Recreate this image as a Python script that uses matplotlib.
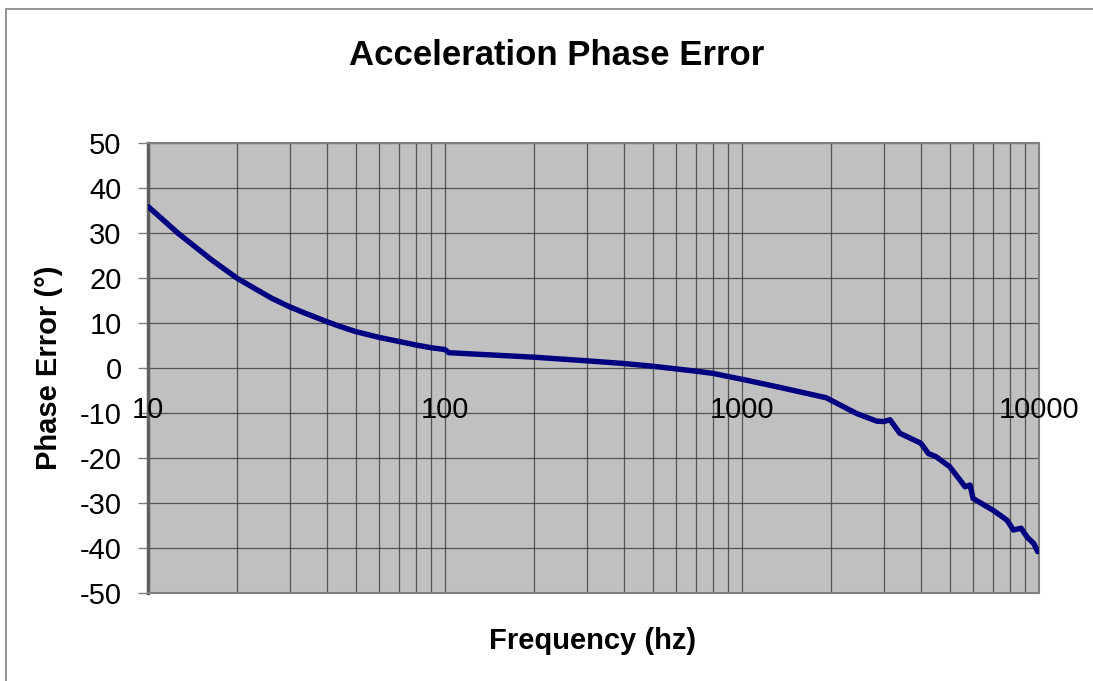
import numpy as np
import matplotlib
matplotlib.use('Agg')
import matplotlib.pyplot as plt
from matplotlib.patches import Rectangle

plt.rcParams['font.family'] = ['Liberation Sans', 'DejaVu Sans']
plt.rcParams['axes.unicode_minus'] = False

# values
freq = [10, 12.65, 16.4, 20, 26.1, 30, 32.9, 40, 44.3, 50, 60, 70, 80, 90, 100, 103,
        200, 300, 400, 500, 600, 700, 800, 900, 1000, 1340, 1920, 1985, 2430, 2840,
        3000, 3150, 3400, 4000, 4240, 4500, 5000, 5420, 5640, 5860, 6000, 7000, 7800,
        8200, 8700, 9100, 9600, 9900]
phase = [35.9, 29.9, 24.0, 19.9, 15.5, 13.6, 12.5, 10.3, 9.25, 8.1, 6.8, 5.9, 5.1, 4.5,
         4.1, 3.4, 2.4, 1.6, 1.0, 0.4, -0.2, -0.7, -1.2, -1.9, -2.5, -4.3, -6.6, -7.1,
         -10.1, -11.8, -11.9, -11.5, -14.5, -16.7, -19.0, -19.7, -21.9, -24.9, -26.4,
         -26.0, -29.0, -31.6, -33.8, -36.0, -35.6, -37.5, -39.0, -40.8]

x_labels = [10, 100, 1000, 10000]
y_ticks = list(range(-50, 51, 10))

fig = plt.figure(figsize=(10.93, 6.81), dpi=100)
ax = fig.add_axes([0.1354, 0.1292, 0.8152, 0.6608])

ax.set_facecolor('#c0c0c0')
ax.set_xscale('log')
ax.set_xlim(10, 10000)
ax.set_ylim(-50, 50)

ax.plot(freq, phase, color='#000080', lw=3.9, solid_joinstyle='round',
        solid_capstyle='round', zorder=3)

# grid
ax.set_yticks(y_ticks)
ax.set_xticks(x_labels)
ax.set_xticklabels([])
ax.tick_params(axis='x', which='both', length=0)
ax.tick_params(axis='y', length=7, width=1, color='#808080', labelsize=21, pad=12)
ax.grid(True, which='both', axis='x', color='#3a3a3a', lw=0.9, alpha=0.8)
ax.grid(True, which='major', axis='y', color='#3a3a3a', lw=0.9, alpha=0.8)
ax.set_axisbelow(True)

for s in ['top', 'right', 'bottom']:
    ax.spines[s].set_color('#808080')
    ax.spines[s].set_linewidth(1.5)
ax.spines['left'].set_color('#606060')
ax.spines['left'].set_linewidth(2.5)

# x tick labels sit just under the zero line
for v in x_labels:
    ax.text(v, -9.3, str(v), ha='center', va='center', fontsize=21, zorder=4)

ax.set_ylabel('Phase Error (°)', fontsize=21, fontweight='bold', labelpad=12)
fig.text(0.5426, 0.059, 'Frequency (hz)', ha='center', va='center', fontsize=21, fontweight='bold')
fig.text(0.509, 0.918, 'Acceleration Phase Error', ha='center', va='center', fontsize=25, fontweight='bold')

# outer chart frame
fig.patches.append(Rectangle((6 / 1093, -0.1), 1.2, 1 - 9 / 681 + 0.1, transform=fig.transFigure,
                             fill=False, edgecolor='#808080', lw=1.2))

fig.savefig('out.png', dpi=100)
